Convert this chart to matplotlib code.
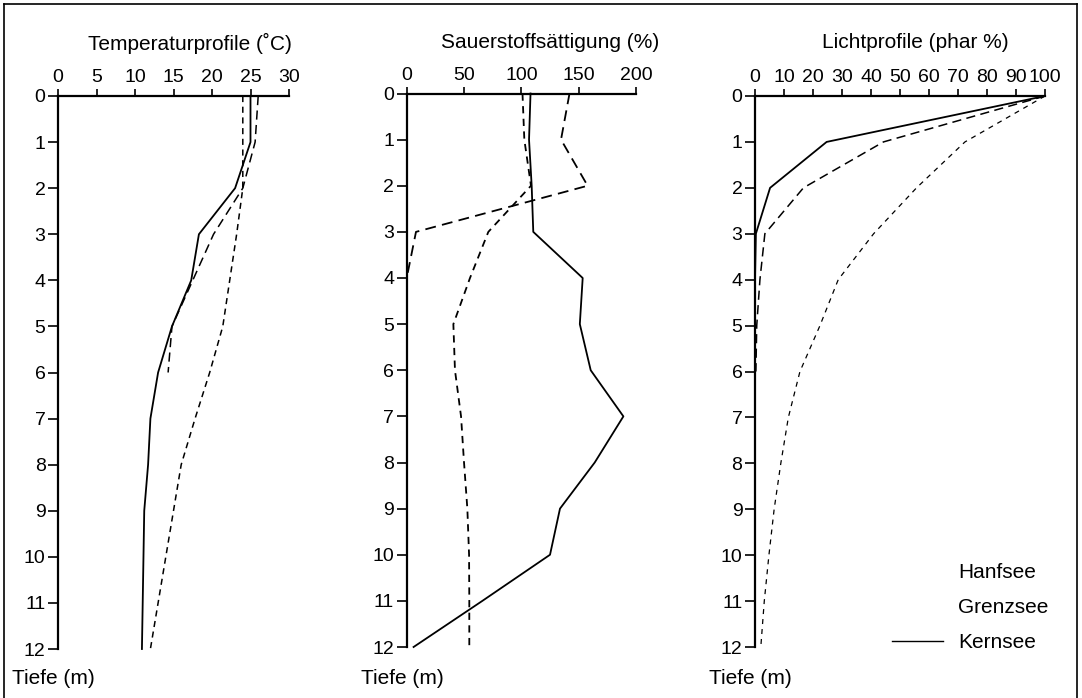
import matplotlib
matplotlib.use("Agg")
import matplotlib.pyplot as plt
from matplotlib.lines import Line2D

plt.rcParams["font.family"] = ["Liberation Sans", "DejaVu Sans"]

# depth steps (m)
depth_deep = [0, 1, 2, 3, 4, 5, 6, 7, 8, 9, 10, 11, 12]
depth_shallow = [0, 1, 2, 3, 4, 5, 6]
depth_o2_hanf = [0, 1, 2, 3, 4]

# temperature (deg C)
temp_hanf = [26, 25.6, 24, 20.2, 17.5, 14.8, 14.3]
temp_grenz = [24, 24, 24, 23.2, 22.3, 21.4, 19.7, 17.8, 16, 15, 14, 13, 12]
temp_kern = [25, 25, 23, 18.3, 17.3, 14.8, 13, 12, 11.7, 11.2, 11.1, 11, 10.9]

# oxygen saturation (%)
o2_hanf = [142, 134.6, 157.8, 8.1, 0]
o2_grenz = [101, 102.6, 108.4, 71.2, 55.2, 40.7, 42.1, 47.4, 50, 52.9, 54.4, 54.6, 54.6]
o2_kern = [108, 106.7, 109, 110.4, 153.5, 151, 160.5, 189, 164, 133.7, 125, 66, 6]

# light (phar %)
light_hanf = [100, 44.3, 16.7, 3.4, 1.7, 0.6, 0.3]
light_grenz = [100, 72.4, 55.7, 40.9, 28.7, 22.4, 15.5, 11.5, 8.9, 6.6, 4.8, 3.2, 2.0]
light_kern = [100, 24.7, 5.2, 0.3, 0, 0, 0]

titles = ["Temperaturprofile (˚C)", "Sauerstoffsättigung (%)", "Lichtprofile (phar %)"]
xticks = [list(range(0, 31, 5)), list(range(0, 201, 50)), list(range(0, 101, 10))]
lakes = ["Hanfsee", "Grenzsee", "Kernsee"]

W, H = 1082, 698
fig = plt.figure(figsize=(W / 100, H / 100), dpi=100)

# axes boxes in pixels: left, right, top, bottom
boxes = [(58, 289, 96, 649), (406.7, 636, 93.5, 647), (755, 1045, 96, 647)]
title_x = [190, 550, 915]

axes = []
for (l, r, t, b) in boxes:
    ax = fig.add_axes([l / W, 1 - b / H, (r - l) / W, (b - t) / H])
    axes.append(ax)

long_dash = (0, (6, 3.5))
short_dash = (0, (4, 3))
fine_dash = (0, (4, 4))

ax1, ax2, ax3 = axes
ax1.plot(temp_hanf, depth_shallow, color="black", lw=1.1, ls=long_dash, clip_on=False)
ax1.plot(temp_grenz, depth_deep, color="black", lw=1.1, ls=short_dash, clip_on=False)
ax1.plot(temp_kern, depth_deep, color="black", lw=1.3, clip_on=False)

ax2.plot(o2_hanf, depth_o2_hanf, color="black", lw=1.3, ls=long_dash, clip_on=False)
ax2.plot(o2_grenz, depth_deep, color="black", lw=1.3, ls=short_dash, clip_on=False)
ax2.plot(o2_kern, depth_deep, color="black", lw=1.3, clip_on=False)

h1, = ax3.plot(light_hanf, depth_shallow, color="black", lw=1.1, ls=long_dash, clip_on=False)
h2, = ax3.plot(light_grenz, depth_deep, color="black", lw=0.9, ls=fine_dash, clip_on=False)
h3, = ax3.plot(light_kern, depth_shallow, color="black", lw=1.3, clip_on=False)

for i, ax in enumerate(axes):
    ax.set_xlim(xticks[i][0], xticks[i][-1])
    ax.set_ylim(12, 0)
    ax.set_xticks(xticks[i])
    ax.set_yticks(range(0, 13))
    ax.xaxis.tick_top()
    ax.spines["right"].set_visible(False)
    ax.spines["bottom"].set_visible(False)
    ax.spines["left"].set_linewidth(1.6)
    ax.spines["top"].set_linewidth(1.6)
    ax.tick_params(axis="x", length=5, width=1.2, pad=2, labelsize=14)
    ax.tick_params(axis="y", length=7, width=1.2, pad=2, labelsize=14)
    ax.patch.set_visible(False)
    (l, r, t, b) = boxes[i]
    fig.text(title_x[i] / W, 1 - 43 / H, titles[i], ha="center", va="center", fontsize=15)
    fig.text((l - 46) / W, 1 - 678 / H, "Tiefe (m)", ha="left", va="center", fontsize=15)

leg = ax3.legend([h1, h2, h3], lakes, loc="lower right", bbox_to_anchor=(1.055, -0.032),
                 frameon=False, fontsize=15, handlelength=2.45, handletextpad=0.72,
                 labelspacing=0.77, borderaxespad=0.2)
for ln in leg.get_lines()[:2]:
    ln.set_visible(False)
for ln in leg.get_lines()[2:]:
    ln.set_linewidth(1.0)

# page frame (left, top, right edges)
frame = dict(color="black", lw=1.2, transform=fig.transFigure)
fig.add_artist(Line2D([4 / W, 4 / W], [0, 1 - 4 / H], **frame))
fig.add_artist(Line2D([4 / W, 1077 / W], [1 - 4 / H, 1 - 4 / H], **frame))
fig.add_artist(Line2D([1077 / W, 1077 / W], [0, 1 - 4 / H], **frame))

fig.savefig("out.png", dpi=100)
